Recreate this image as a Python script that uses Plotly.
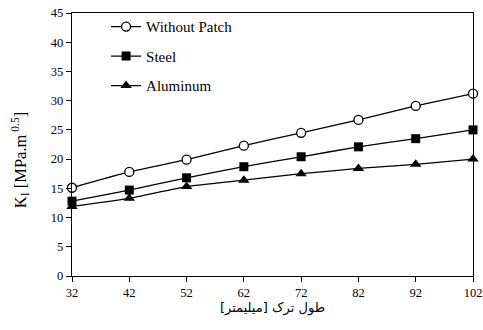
import plotly.graph_objects as go

crack_length = [32, 42, 52, 62, 72, 82, 92, 102]
x_tick_labels = ["32", "42", "52", "62", "72", "82", "92", "102"]
without_patch = [15.1, 17.8, 19.9, 22.3, 24.5, 26.7, 29.1, 31.2]
steel = [12.8, 14.7, 16.8, 18.7, 20.4, 22.1, 23.5, 25.0]
aluminum = [11.9, 13.3, 15.3, 16.4, 17.5, 18.4, 19.1, 20.0]
y_ticks = [0, 5, 10, 15, 20, 25, 30, 35, 40, 45]

FONT = "Liberation Serif"

fig = go.Figure()
markers = [
    dict(symbol="circle", size=9, color="white", line=dict(width=1.3, color="black")),
    dict(symbol="square", size=9, color="black"),
    dict(symbol="triangle-up", size=10, color="black"),
]
names = ["Without Patch", "Steel", "Aluminum"]
values = [without_patch, steel, aluminum]
for i, (name, vals, mk) in enumerate(zip(names, values, markers)):
    fig.add_trace(go.Scatter(
        x=crack_length, y=vals, name=name, mode="lines+markers",
        line=dict(color="black", width=1.3, shape="spline", smoothing=0.4),
        marker=mk, legendgroup=f"g{i}", cliponaxis=False,
    ))

axis_common = dict(
    showline=True, linecolor="black", linewidth=1.3, mirror=True,
    ticks="outside", ticklen=5, tickcolor="black", tickwidth=1,
    showgrid=False, zeroline=False, ticklabeloverflow="allow", automargin=False,
    tickfont=dict(family=FONT, size=12.5, color="black"),
)

fig.update_layout(
    width=483, height=330, autosize=False,
    margin=dict(l=72, r=10, t=13, b=54, autoexpand=False),
    paper_bgcolor="white", plot_bgcolor="white",
    font=dict(family=FONT, color="black"),
    showlegend=True,
    legend=dict(
        x=0.085, y=1.01, xanchor="left", yanchor="top",
        bgcolor="rgba(0,0,0,0)", borderwidth=0,
        font=dict(family=FONT, size=15, color="black"),
        traceorder="grouped", tracegroupgap=7,
    ),
    xaxis=dict(
        range=[32, 102], tickvals=crack_length, ticktext=x_tick_labels,
        title=dict(text="طول ترک [میلیمتر]", font=dict(family="DejaVu Sans", size=13, color="black"), standoff=0),
        **axis_common,
    ),
    yaxis=dict(
        range=[0, 45], tickvals=y_ticks,
        **axis_common,
    ),
    annotations=[dict(
        text="K<sub>I</sub> [MPa.m<sup> 0.5</sup>]", xref="paper", yref="paper",
        x=-0.13, y=0.44, xanchor="center", yanchor="middle", textangle=-90,
        showarrow=False, font=dict(family=FONT, size=16.5, color="black"),
    )],
)

fig.write_html("out.html", config={"displayModeBar": False},
               post_script="document.body.style.margin='0';document.body.style.padding='0';")
